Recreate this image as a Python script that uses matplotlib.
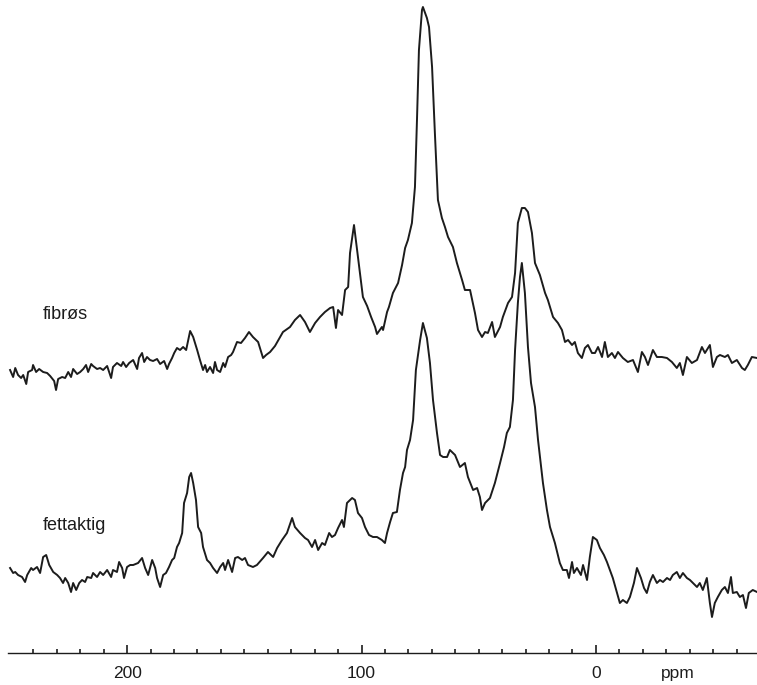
import matplotlib
matplotlib.use('Agg')
import matplotlib.pyplot as plt
from matplotlib.ticker import FixedLocator

plt.rcParams['font.family'] = ['Liberation Sans', 'DejaVu Sans']

# 13C NMR spectra, chemical shift (ppm) and intensity (arbitrary units, trace offset included)
fibros_ppm = [
    249.9, 248.6, 247.7, 246.5, 245.2, 244.3, 243.0, 242.2, 240.5, 240.1, 238.8, 237.5,
    235.8, 234.1, 232.8, 231.1, 230.3, 229.4, 227.7, 226.4, 225.1, 223.9, 223.0, 221.3,
    220.0, 218.7, 217.5, 216.6, 215.3, 214.5, 212.8, 211.5, 210.2, 208.5, 206.8, 206.0,
    204.3, 202.5, 201.7, 200.4, 199.1, 197.4, 195.7, 194.9, 193.6, 192.7, 191.5, 190.2,
    188.9, 187.2, 185.9, 184.2, 182.9, 182.1, 180.8, 179.9, 178.7, 177.4, 176.1, 174.8,
    173.1, 171.8, 170.1, 168.9, 167.6, 166.7, 165.9, 164.6, 163.3, 162.5, 161.6, 160.3,
    159.0, 158.2, 156.9, 155.6, 154.8, 153.1, 151.4, 149.7, 148.0, 146.3, 144.1, 142.0,
    140.7, 139.0, 136.9, 134.7, 133.5, 130.5, 128.4, 126.2, 124.1, 122.0, 119.8, 117.7,
    115.6, 113.4, 112.1, 110.9, 110.0, 108.3, 107.0, 105.7, 104.9, 103.2, 101.5, 99.4,
    97.6, 95.9, 94.2, 93.4, 91.3, 90.8, 89.1, 88.3, 86.6, 84.4, 82.7, 81.4,
    80.2, 78.5, 77.2, 76.3, 75.5, 74.2, 73.8, 72.1, 71.2, 69.9, 68.7, 67.4,
    65.7, 64.4, 63.1, 61.0, 59.3, 57.1, 55.9, 53.7, 51.6, 50.3, 48.6, 47.3,
    46.1, 44.3, 43.1, 40.9, 39.7, 37.5, 35.8, 34.5, 33.3, 31.6, 30.3, 29.0,
    27.3, 26.0, 23.9, 21.7, 20.5, 18.3, 16.2, 14.5, 13.2, 11.9, 10.2, 9.0,
    7.7, 6.0, 4.7, 3.4, 1.7, 0.4, -0.9, -2.6, -3.8, -5.1, -6.8, -8.1,
    -9.4, -11.5, -13.6, -15.8, -17.9, -19.6, -20.9, -22.2, -24.3, -26.0, -28.1, -30.3,
    -32.4, -34.5, -35.8, -37.1, -38.8, -40.9, -43.1, -45.2, -46.5, -48.6, -49.9, -51.6,
    -52.9, -55.0, -56.3, -58.0, -60.1, -62.3, -63.5, -64.8, -66.5, -68.7,
]
fibros_int = [
    280, 273, 282, 275, 272, 275, 266, 278, 280, 285, 278, 281,
    278, 277, 274, 269, 260, 271, 273, 272, 278, 273, 281, 276,
    278, 281, 285, 278, 286, 284, 281, 282, 280, 284, 272, 283,
    287, 284, 288, 283, 287, 290, 281, 292, 297, 288, 293, 290,
    289, 291, 286, 289, 281, 286, 292, 297, 302, 300, 303, 300,
    319, 313, 300, 290, 280, 285, 278, 283, 277, 288, 280, 278,
    287, 283, 293, 295, 298, 308, 307, 312, 318, 313, 308, 292,
    295, 298, 304, 313, 318, 323, 330, 335, 328, 318, 327, 333,
    338, 342, 343, 322, 340, 335, 360, 363, 397, 425, 393, 353,
    344, 333, 323, 316, 323, 320, 338, 343, 357, 367, 385, 402,
    410, 427, 463, 533, 600, 640, 643, 632, 623, 583, 517, 450,
    432, 423, 413, 403, 387, 370, 360, 360, 337, 320, 313, 318,
    317, 328, 313, 323, 333, 347, 353, 377, 427, 442, 442, 438,
    417, 387, 375, 357, 350, 333, 327, 320, 308, 310, 305, 308,
    297, 292, 302, 305, 297, 297, 303, 293, 308, 293, 297, 292,
    298, 292, 288, 290, 278, 298, 293, 285, 300, 293, 293, 292,
    288, 282, 287, 275, 293, 287, 290, 303, 297, 305, 283, 293,
    295, 293, 295, 287, 290, 282, 280, 285, 293, 292,
]

fett_ppm = [
    249.9, 248.6, 247.7, 246.5, 244.8, 243.5, 242.6, 240.9, 240.1, 238.4, 237.1, 235.8,
    234.5, 233.2, 231.5, 229.8, 228.6, 227.3, 226.4, 225.1, 223.9, 223.0, 221.7, 220.4,
    219.2, 217.9, 217.0, 215.3, 214.5, 212.8, 211.5, 210.2, 208.5, 206.8, 206.0, 204.3,
    203.4, 202.1, 201.3, 200.0, 198.7, 197.4, 195.3, 193.6, 192.3, 191.0, 189.3, 188.0,
    187.2, 185.9, 184.6, 183.4, 182.1, 180.8, 179.9, 178.7, 177.8, 176.5, 175.7, 174.4,
    173.5, 172.7, 171.8, 170.6, 169.7, 168.4, 167.6, 165.9, 164.6, 163.3, 161.6, 160.3,
    159.0, 158.2, 156.9, 155.2, 153.9, 152.7, 150.9, 149.7, 148.4, 146.3, 144.6, 142.0,
    139.9, 137.7, 136.0, 133.9, 131.8, 129.6, 128.4, 126.2, 124.1, 122.8, 121.1, 119.8,
    118.5, 116.8, 115.6, 113.8, 112.6, 111.3, 110.0, 108.3, 107.5, 106.2, 104.0, 102.8,
    101.5, 99.8, 98.5, 96.8, 95.1, 93.4, 91.3, 90.0, 89.1, 87.8, 86.6, 84.9,
    83.6, 82.3, 81.4, 80.6, 79.3, 78.0, 76.8, 75.0, 73.8, 72.1, 70.8, 69.5,
    67.8, 66.5, 65.2, 63.5, 62.3, 60.1, 58.0, 55.9, 54.6, 52.4, 50.7, 49.5,
    48.6, 47.3, 45.2, 43.1, 40.9, 39.2, 38.0, 36.7, 35.4, 34.5, 33.3, 32.4,
    31.6, 30.3, 29.0, 27.7, 26.0, 24.7, 22.6, 20.9, 19.6, 17.5, 15.4, 14.1,
    12.4, 11.5, 10.2, 9.4, 8.1, 6.4, 5.5, 3.8, 2.6, 1.3, -0.4, -1.7,
    -3.4, -4.7, -6.4, -7.2, -9.0, -10.2, -11.5, -13.2, -14.5, -16.2, -17.5, -19.2,
    -20.5, -21.7, -23.0, -24.3, -26.0, -27.3, -28.6, -30.3, -31.6, -32.8, -34.5, -35.8,
    -37.1, -38.8, -40.1, -41.4, -43.1, -44.3, -45.6, -47.3, -48.6, -49.5, -50.7, -52.0,
    -53.7, -55.0, -56.3, -57.6, -58.4, -60.1, -61.4, -62.7, -64.0, -65.2, -66.9, -68.7,
]
fett_int = [
    82, 77, 78, 75, 73, 68, 75, 82, 80, 83, 77, 93,
    95, 85, 78, 75, 72, 67, 72, 67, 58, 67, 60, 67,
    70, 68, 73, 72, 77, 73, 78, 75, 80, 73, 80, 78,
    88, 82, 72, 83, 85, 85, 87, 92, 82, 75, 90, 82,
    72, 63, 75, 77, 83, 90, 92, 103, 107, 117, 147, 157,
    173, 177, 167, 150, 123, 117, 103, 90, 87, 82, 77, 83,
    87, 80, 90, 78, 92, 93, 90, 92, 85, 83, 85, 92,
    98, 93, 102, 110, 117, 132, 123, 117, 112, 110, 103, 110,
    100, 107, 105, 117, 113, 115, 122, 130, 123, 147, 152, 150,
    137, 132, 123, 115, 113, 113, 110, 107, 117, 128, 137, 138,
    160, 177, 183, 200, 210, 230, 280, 310, 327, 312, 287, 250,
    217, 195, 193, 193, 200, 195, 183, 187, 173, 160, 162, 153,
    140, 147, 152, 167, 187, 203, 217, 223, 250, 300, 347, 373,
    387, 357, 303, 267, 243, 210, 167, 140, 123, 107, 87, 80,
    80, 72, 88, 77, 82, 75, 85, 70, 93, 113, 110, 102,
    95, 88, 77, 72, 57, 47, 50, 47, 53, 67, 82, 72,
    62, 57, 68, 75, 67, 70, 68, 72, 70, 75, 78, 72,
    77, 72, 70, 67, 63, 67, 60, 72, 47, 33, 47, 53,
    60, 63, 57, 73, 57, 58, 53, 55, 42, 57, 60, 58,
]

trace_labels = ['fibrøs', 'fettaktig']
label_pos = [(235.8, 331), (235.8, 120)]
major_ticks = [200, 100, 0]
tick_labels = ['200', '100', '0']
minor_ticks = list(range(240, -70, -10))

fig = plt.figure(figsize=(7.57, 6.85), dpi=100)
ax = fig.add_axes([0, 0, 1, 1])

ink = '#1c1c1c'
ax.plot(fibros_ppm, fibros_int, color=ink, lw=1.4)
ax.plot(fett_ppm, fett_int, color=ink, lw=1.4)

for txt, (px, py) in zip(trace_labels, label_pos):
    ax.text(px, py, txt, fontsize=13, color=ink, ha='left', va='baseline')

ax.set_xlim(254.2, -68.7)
ax.set_ylim(-35, 650)

# ppm axis at the bottom, ticks pointing up
for side in ['top', 'left', 'right']:
    ax.spines[side].set_visible(False)
ax.spines['bottom'].set_position(('data', -3))
ax.spines['bottom'].set_bounds(250.7, -68.7)
ax.spines['bottom'].set_color(ink)
ax.spines['bottom'].set_linewidth(1.0)

ax.xaxis.set_major_locator(FixedLocator(major_ticks))
ax.xaxis.set_minor_locator(FixedLocator(minor_ticks))
ax.set_xticklabels(tick_labels)
ax.xaxis.set_ticks_position('bottom')
ax.tick_params(axis='x', which='both', bottom=True, top=False, direction='in', color=ink)
ax.tick_params(axis='x', which='major', length=6, width=1.2,
               labelsize=12.5, labelcolor=ink, pad=9)
ax.tick_params(axis='x', which='minor', length=3, width=1.2)
ax.yaxis.set_visible(False)
ax.patch.set_alpha(0)

ax.text(-35, -28, 'ppm', fontsize=12.5, color=ink, ha='center', va='baseline')

fig.savefig('out.png', dpi=100)
